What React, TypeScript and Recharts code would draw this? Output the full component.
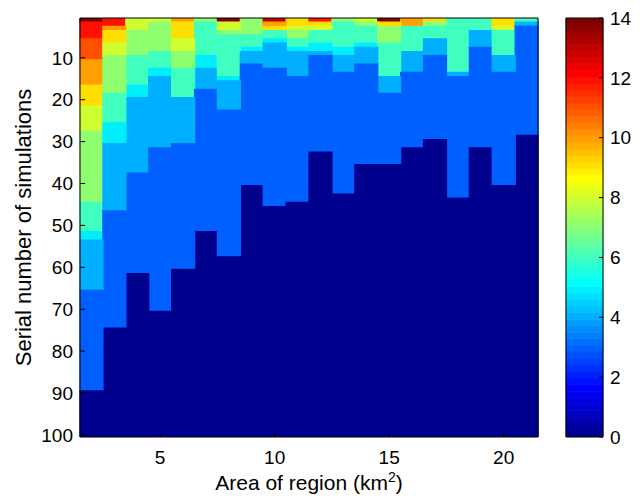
import React from 'react';
import { ComposedChart, XAxis, YAxis, Bar, Cell } from 'recharts';

// Area of region (km^2) for each column
const areas = [2, 3, 4, 5, 6, 7, 8, 9, 10, 11, 12, 13, 14, 15, 16, 17, 18, 19, 20, 21];

// Each column: bands from the top, [value, last simulation number of the band]
const col02 = [[14, 1], [12, 5], [11, 10], [10, 16], [9, 21], [8, 27], [7, 44], [6, 51], [5, 53], [4, 65], [3, 89], [0, 100]];
const col03 = [[12, 2], [10, 3], [9, 6], [8, 9], [7, 18], [6, 25], [5, 30], [4, 46], [3, 74], [0, 100]];
const col04 = [[8, 3], [7, 9], [6, 16], [5, 19], [4, 37], [3, 61], [0, 100]];
const col05 = [[8, 1], [7, 8], [6, 12], [5, 14], [4, 31], [3, 70], [0, 100]];
const col06 = [[10, 1], [9, 5], [8, 8], [7, 12], [6, 19], [4, 30], [3, 60], [0, 100]];
const col07 = [[7, 1], [6, 9], [5, 12], [4, 17], [3, 51], [0, 100]];
const col08 = [[14, 1], [8, 3], [7, 4], [6, 14], [5, 15], [4, 22], [3, 57], [0, 100]];
const col09 = [[7, 4], [6, 7], [5, 8], [4, 11], [3, 40], [0, 100]];
const col10 = [[13, 1], [10, 2], [9, 3], [6, 5], [5, 6], [4, 12], [3, 45], [0, 100]];
const col11 = [[9, 2], [8, 3], [7, 5], [6, 7], [5, 8], [4, 14], [3, 44], [0, 100]];
const col12 = [[12, 1], [9, 2], [8, 3], [6, 6], [5, 8], [4, 9], [3, 32], [0, 100]];
const col13 = [[7, 1], [6, 7], [5, 9], [4, 13], [3, 42], [0, 100]];
const col14 = [[8, 1], [7, 2], [6, 6], [5, 7], [4, 11], [3, 35], [0, 100]];
const col15 = [[14, 1], [9, 2], [7, 6], [6, 14], [4, 18], [3, 35], [0, 100]];
const col16 = [[10, 2], [6, 8], [4, 13], [3, 31], [0, 100]];
const col17 = [[9, 1], [7, 2], [6, 5], [4, 9], [3, 29], [0, 100]];
const col18 = [[6, 13], [4, 14], [3, 43], [0, 100]];
const col19 = [[6, 3], [4, 7], [3, 31], [0, 100]];
const col20 = [[9, 2], [8, 3], [6, 9], [4, 13], [3, 40], [0, 100]];
const col21 = [[6, 1], [4, 2], [3, 28], [0, 100]];

const columnBands = [col02, col03, col04, col05, col06, col07, col08, col09, col10, col11,
  col12, col13, col14, col15, col16, col17, col18, col19, col20, col21];

const xTicks = [5, 10, 15, 20];
const yTicks = [10, 20, 30, 40, 50, 60, 70, 80, 90, 100];
const cbTicks = [0, 2, 4, 6, 8, 10, 12, 14];
const cMin = 0;
const cMax = 14;
const nColors = 64;

const FONT = '"Liberation Sans", Arial, Helvetica, sans-serif';

// MATLAB jet(64)
function u(k: number) {
  if (k < 1 || k > 47) return 0;
  if (k <= 16) return k / 16;
  if (k <= 31) return 1;
  return (48 - k) / 16;
}
function jetIndex(i: number) {
  const r = u(i - 24), g = u(i - 8), b = u(i + 8);
  const h = (x: number) => Math.round(x * 255).toString(16).padStart(2, '0');
  return '#' + h(r) + h(g) + h(b);
}
function jet(v: number) {
  let idx = Math.floor(((v - cMin) / (cMax - cMin)) * nColors) + 1;
  if (idx > nColors) idx = nColors;
  if (idx < 1) idx = 1;
  return jetIndex(idx);
}

// Table for stacked bars: one row per column, band k -> n{k} rows with value v{k}
const maxBands = Math.max(...columnBands.map((c) => c.length));
const heatData = areas.map((a, i) => {
  const row: any = { area: a, base: 0.5 };
  let start = 1;
  columnBands[i].forEach(([v, end], k) => {
    row['n' + k] = end - start + 1;
    row['v' + k] = v;
    start = end + 1;
  });
  return row;
});
const bandKeys = Array.from({ length: maxBands }, (_, k) => k);

// Colour bar table: 64 equal steps of the colour map
const colorSteps = Array.from({ length: nColors }, (_, i) => i);
const cbRow: any = { name: 'cb', base: 0 };
colorSteps.forEach((i) => { cbRow['c' + i] = (cMax - cMin) / nColors; });
const cbData = [cbRow];

const tickStyle = { fill: '#000', fontSize: 19, fontFamily: FONT };

const XLabel = (props: any) => {
  const vb = props.viewBox || {};
  const cx = vb.x + vb.width / 2;
  const y = vb.y + vb.height - 6;
  return (
    <text x={cx} y={y} textAnchor="middle" fontSize={21} fontFamily={FONT} fill="#000">
      Area of region (km<tspan dy={-8} fontSize={14}>2</tspan><tspan dy={8}>)</tspan>
    </text>
  );
};

const YLabel = (props: any) => {
  const vb = props.viewBox || {};
  const x = 31;
  const y = vb.y + vb.height / 2;
  return (
    <text x={x} y={y} transform={`rotate(-90, ${x}, ${y})`} textAnchor="middle" fontSize={22} fontFamily={FONT} fill="#000">
      Serial number of simulations
    </text>
  );
};

const layer: React.CSSProperties = { position: 'absolute', left: 0, top: 0 };

export default function App() {
  return (
    <div style={{ position: 'absolute', left: 0, top: 0, width: 644, height: 496, background: '#fff' }}>
      {/* heat map cells */}
      <div style={layer}>
        <ComposedChart
          width={560}
          height={496}
          data={heatData}
          margin={{ top: 18, right: 22, bottom: 59, left: 80 }}
          barCategoryGap={0}
          barGap={0}
        >
          <Bar dataKey="base" stackId="s" fill="none" isAnimationActive={false} />
          {bandKeys.map((k) => (
            <Bar key={'b' + k} dataKey={'n' + k} stackId="s" isAnimationActive={false}>
              {heatData.map((d, i) => (
                <Cell key={i} fill={jet(d['v' + k])} stroke={jet(d['v' + k])} strokeWidth={1.2} />
              ))}
            </Bar>
          ))}
          <XAxis dataKey="area" type="category" hide />
          <YAxis type="number" domain={[0.5, 100.5]} allowDataOverflow reversed hide />
        </ComposedChart>
      </div>
      {/* axes box drawn over the cells */}
      <div style={layer}>
        <ComposedChart
          width={560}
          height={496}
          data={heatData}
          margin={{ top: 17, right: 21, bottom: 0, left: 0 }}
          barCategoryGap={0}
          barGap={0}
        >
          <Bar dataKey="base" fill="none" isAnimationActive={false} />
          <XAxis
            dataKey="area"
            type="category"
            ticks={xTicks}
            height={59}
            tickSize={-5}
            tickMargin={19}
            stroke="#000"
            tick={tickStyle}
            label={XLabel}
          />
          <XAxis
            xAxisId="top"
            dataKey="area"
            orientation="top"
            type="category"
            ticks={xTicks}
            height={1}
            tickSize={-5}
            stroke="#000"
            tick={false}
          />
          <YAxis
            type="number"
            domain={[0.5, 100.5]}
            allowDataOverflow
            reversed
            ticks={yTicks}
            width={80}
            tickSize={-5}
            tickMargin={12}
            stroke="#000"
            tick={tickStyle}
            label={YLabel}
          />
          <YAxis
            yAxisId="right"
            orientation="right"
            type="number"
            domain={[0.5, 100.5]}
            allowDataOverflow
            reversed
            ticks={yTicks}
            width={1}
            tickSize={-5}
            stroke="#000"
            tick={false}
          />
        </ComposedChart>
      </div>
      {/* colour bar */}
      <div style={{ position: 'absolute', left: 540, top: 0 }}>
        <ComposedChart
          width={104}
          height={496}
          data={cbData}
          margin={{ top: 18, right: 41, bottom: 59, left: 26 }}
          barCategoryGap={0}
          barGap={0}
        >
          {colorSteps.map((i) => (
            <Bar
              key={'c' + i}
              dataKey={'c' + i}
              stackId="cb"
              fill={jetIndex(i + 1)}
              stroke={jetIndex(i + 1)}
              strokeWidth={0.8}
              isAnimationActive={false}
            />
          ))}
          <XAxis dataKey="name" type="category" hide />
          <YAxis type="number" domain={[cMin, cMax]} allowDataOverflow hide />
        </ComposedChart>
      </div>
      <div style={{ position: 'absolute', left: 540, top: 0 }}>
        <ComposedChart
          width={104}
          height={496}
          data={cbData}
          margin={{ top: 17, right: 0, bottom: 58, left: 25 }}
          barCategoryGap={0}
          barGap={0}
        >
          <Bar dataKey="base" yAxisId="cb" fill="none" isAnimationActive={false} />
          <XAxis dataKey="name" type="category" height={1} tick={false} tickLine={false} stroke="#000" />
          <XAxis xAxisId="t" dataKey="name" orientation="top" type="category" height={1} tick={false} tickLine={false} stroke="#000" />
          <YAxis
            yAxisId="cbl"
            orientation="left"
            type="number"
            domain={[cMin, cMax]}
            allowDataOverflow
            ticks={cbTicks}
            width={1}
            tickSize={-4}
            stroke="#000"
            tick={false}
          />
          <YAxis
            yAxisId="cb"
            orientation="right"
            type="number"
            domain={[cMin, cMax]}
            allowDataOverflow
            ticks={cbTicks}
            width={41}
            tickSize={-4}
            tickMargin={11}
            stroke="#000"
            tick={tickStyle}
          />
        </ComposedChart>
      </div>
    </div>
  );
}
